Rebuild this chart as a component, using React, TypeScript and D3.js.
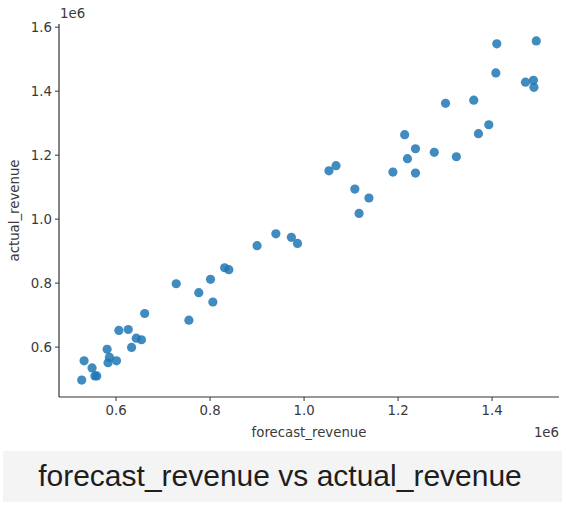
import React from "react";
import * as d3 from "d3";

const WIDTH = 566;
const HEIGHT = 506;
const MARGIN = { top: 24, right: 7, bottom: 109, left: 59 };

// forecast vs actual revenue per store
const forecastRevenue = [
  527000, 532000, 549000, 555000, 559000, 581000, 583000, 586000, 601000, 606000,
  626000, 633000, 643000, 654000, 661000, 728000, 755000, 776000, 801000, 806000,
  831000, 840000, 900000, 940000, 973000, 986000, 1053000, 1068000, 1108000, 1138000,
  1117000, 1189000, 1220000, 1237000, 1214000, 1237000, 1277000, 1324000, 1301000, 1361000,
  1371000, 1393000, 1408000, 1410000, 1471000, 1488000, 1489000, 1494000,
];
const actualRevenue = [
  497000, 557000, 535000, 510000, 510000, 593000, 551000, 568000, 557000, 652000,
  655000, 599000, 628000, 623000, 705000, 798000, 684000, 770000, 812000, 741000,
  848000, 842000, 917000, 954000, 943000, 924000, 1151000, 1167000, 1094000, 1066000,
  1018000, 1147000, 1189000, 1220000, 1264000, 1144000, 1209000, 1195000, 1362000, 1372000,
  1267000, 1295000, 1457000, 1548000, 1428000, 1434000, 1412000, 1557000,
];

const xTicks = [0.6e6, 0.8e6, 1.0e6, 1.2e6, 1.4e6];
const yTicks = [0.6e6, 0.8e6, 1.0e6, 1.2e6, 1.4e6, 1.6e6];

const TITLE = "forecast_revenue vs actual_revenue";
const X_LABEL = "forecast_revenue";
const Y_LABEL = "actual_revenue";

const FONT = "DejaVu Sans, sans-serif";
const TICK_COLOR = "#3a3a3a";
const DOT_COLOR = "#1f77b4";

// matplotlib-style autoscale: data extent padded by 5% each side
const padded = (values: number[]): [number, number] => {
  const [lo, hi] = d3.extent(values) as [number, number];
  const pad = (hi - lo) * 0.05;
  return [lo - pad, hi + pad];
};

const App = () => {
  const innerW = WIDTH - MARGIN.left - MARGIN.right;
  const innerH = HEIGHT - MARGIN.top - MARGIN.bottom;

  const xScale = d3.scaleLinear().domain(padded(forecastRevenue)).range([0, innerW]);
  const yScale = d3.scaleLinear().domain(padded(actualRevenue)).range([innerH, 0]);
  const fmt = (v: number) => d3.format(".1f")(v / 1e6);

  const points = forecastRevenue.map((f, i) => ({ f, a: actualRevenue[i] }));

  return (
    <svg
      width={WIDTH}
      height={HEIGHT}
      style={{ position: "absolute", left: 0, top: 0, background: "#fff" }}
    >
      <g transform={`translate(${MARGIN.left},${MARGIN.top})`}>
        {points.map((d, i) => (
          <circle
            key={i}
            cx={xScale(d.f)}
            cy={yScale(d.a)}
            r={4.6}
            fill={DOT_COLOR}
            fillOpacity={0.85}
          />
        ))}

        {/* spines */}
        <line x1={0} x2={0} y1={0} y2={innerH} stroke="#333" strokeWidth={1.2} />
        <line x1={0} x2={innerW} y1={innerH} y2={innerH} stroke="#333" strokeWidth={1.2} />

        {xTicks.map((t) => (
          <g key={t} transform={`translate(${xScale(t)},${innerH})`}>
            <line y1={0} y2={4} stroke="#333" strokeWidth={1} />
            <text
              y={18}
              textAnchor="middle"
              fontFamily={FONT}
              fontSize={13.3}
              fill={TICK_COLOR}
            >
              {fmt(t)}
            </text>
          </g>
        ))}
        {yTicks.map((t) => (
          <g key={t} transform={`translate(0,${yScale(t)})`}>
            <line x1={-4} x2={0} stroke="#333" strokeWidth={1} />
            <text
              x={-7}
              dy="0.35em"
              textAnchor="end"
              fontFamily={FONT}
              fontSize={13.3}
              fill={TICK_COLOR}
            >
              {fmt(t)}
            </text>
          </g>
        ))}

        {/* offset multipliers */}
        <text x={1} y={-6} fontFamily={FONT} fontSize={13.3} fill={TICK_COLOR}>
          1e6
        </text>
        <text
          x={innerW}
          y={innerH + 40}
          textAnchor="end"
          fontFamily={FONT}
          fontSize={13.3}
          fill={TICK_COLOR}
        >
          1e6
        </text>

        <text
          x={innerW / 2}
          y={innerH + 40}
          textAnchor="middle"
          fontFamily={FONT}
          fontSize={13.3}
          fill={TICK_COLOR}
        >
          {X_LABEL}
        </text>
        <text
          transform={`translate(${-40},${innerH / 2}) rotate(-90)`}
          textAnchor="middle"
          fontFamily={FONT}
          fontSize={13.3}
          fill={TICK_COLOR}
        >
          {Y_LABEL}
        </text>
      </g>

      {/* caption bar */}
      <rect x={3} y={451} width={559} height={51} fill="#f4f4f4" />
      <text
        x={WIDTH / 2 - 3}
        y={486}
        textAnchor="middle"
        fontFamily="Liberation Sans, Arial, sans-serif"
        fontSize={30}
        fill="#1e1e1e"
      >
        {TITLE}
      </text>
    </svg>
  );
};

export default App;
